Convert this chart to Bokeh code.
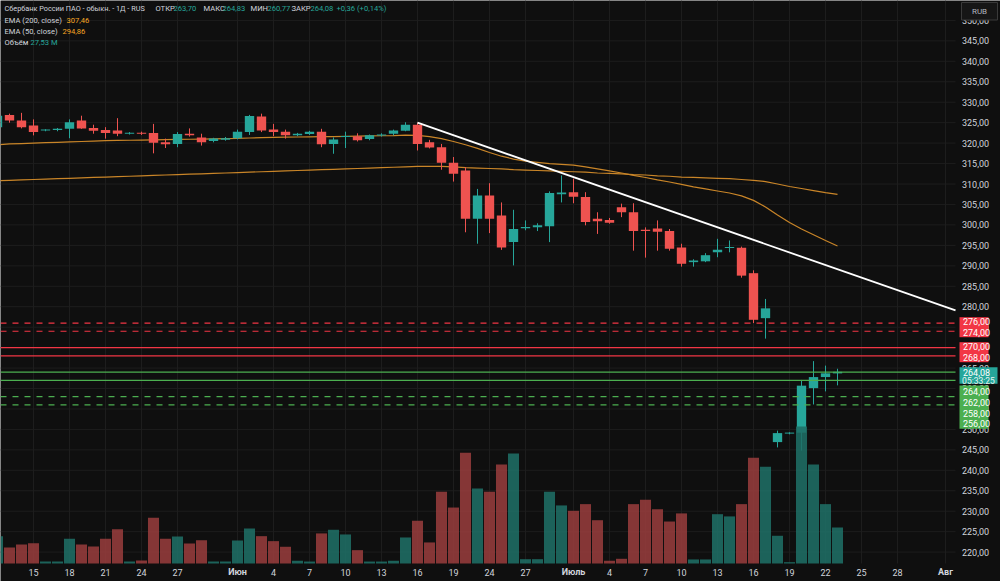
import pandas as pd
from bokeh.plotting import figure
from bokeh.models import Range1d
from bokeh.core.properties import value
from bokeh.embed import file_html
from bokeh.resources import INLINE

# ---- daily sessions (Jun 20-21 had no session) ----
dates = [d.strftime("%Y-%m-%d") for d in
         list(pd.date_range("2026-05-12", "2026-06-19")) +
         list(pd.date_range("2026-06-22", "2026-07-23"))]
future_dates = [d.strftime("%Y-%m-%d") for d in pd.date_range("2026-07-24", "2026-08-01")]
all_dates = dates + future_dates

opens = [323.9, 326.9, 325.5, 324.3, 323.1, 323.2, 323.5, 325.5, 323.7, 323.2,
         323.1, 322.3, 322.5, 322.5, 320.2, 319.8, 322.3, 321.4, 320.5, 320.8,
         321.2, 322.7, 326.5, 323.3, 322.8, 321.9, 322.2, 322.8, 319.8, 321.5,
         321.7, 321.0, 321.9, 322.3, 323.0, 324.5, 320.2, 319.0, 315.2, 313.3,
         301.5, 307.2, 302.3, 295.8, 299.2, 299.4, 299.7, 307.5, 308.0, 306.8,
         301.5, 301.2, 304.3, 303.1, 298.8, 299.1, 298.5, 294.5, 290.9, 291.1,
         293.3, 294.4, 294.4, 288.2, 277.2, 246.9, 249.0, 249.2, 260.1, 262.8,
         263.70]
highs = [327.0, 327.2, 327.4, 325.8, 323.4, 323.7, 325.8, 326.7, 324.5, 323.9,
         326.1, 322.7, 322.8, 324.7, 321.1, 322.7, 323.6, 322.3, 321.3, 321.5,
         323.3, 326.9, 327.2, 324.7, 323.3, 322.5, 323.0, 323.5, 321.4, 322.8,
         322.4, 322.1, 322.4, 323.3, 325.1, 325.0, 320.8, 319.8, 316.6, 314.1,
         308.8, 310.2, 305.5, 303.7, 301.1, 300.4, 308.2, 312.1, 311.3, 308.0,
         303.1, 301.7, 305.2, 305.3, 299.4, 301.1, 299.0, 295.4, 291.6, 293.1,
         296.6, 296.2, 294.7, 288.9, 281.9, 249.7, 249.3, 262.1, 266.7, 265.6,
         264.83]
lows = [323.5, 325.0, 323.6, 321.9, 322.9, 322.9, 321.2, 323.5, 322.3, 321.1,
        321.7, 322.1, 322.0, 317.5, 318.8, 319.0, 321.6, 319.4, 320.2, 320.6,
        320.9, 322.0, 322.7, 321.7, 321.1, 321.7, 322.0, 319.0, 317.4, 318.8,
        320.4, 320.7, 321.6, 321.9, 322.9, 318.2, 318.7, 313.5, 310.6, 298.2,
        295.4, 298.0, 293.9, 290.1, 298.7, 298.5, 295.8, 305.5, 305.3, 299.9,
        297.8, 300.3, 301.9, 293.7, 292.0, 293.7, 293.7, 289.8, 289.8, 290.9,
        292.1, 293.3, 287.1, 276.0, 272.2, 245.6, 248.8, 244.8, 256.1, 259.3,
        260.77]
closes = [326.7, 325.5, 323.9, 322.7, 323.3, 323.5, 325.1, 323.6, 323.0, 322.5,
          322.3, 322.5, 322.3, 320.1, 319.7, 322.2, 321.9, 320.2, 321.1, 321.2,
          322.8, 326.6, 323.1, 322.7, 321.9, 322.3, 322.8, 319.7, 320.9, 321.7,
          320.7, 321.9, 322.1, 323.1, 324.5, 319.8, 318.9, 315.2, 312.5, 301.5,
          307.2, 301.5, 294.5, 299.0, 299.5, 299.9, 307.8, 307.9, 306.9, 300.7,
          300.9, 300.5, 303.1, 298.5, 298.5, 298.3, 294.2, 290.5, 291.3, 292.6,
          293.9, 294.6, 287.6, 276.8, 279.6, 249.1, 249.2, 260.7, 262.8, 263.72,
          264.08]
volumes_m = [20.9, 12.2, 14.5, 15.5, 1.5, 1.5, 18.9, 14.5, 13.0, 18.9,
             26.2, 1.5, 2.3, 35.0, 18.9, 20.7, 15.3, 17.8, 1.5, 1.5,
             17.6, 26.8, 20.9, 17.1, 12.8, 2.1, 1.5, 23.0, 25.8, 22.2,
             10.2, 1.5, 1.5, 2.1, 19.9, 32.7, 16.1, 54.8, 42.8, 84.7,
             57.4, 54.8, 75.7, 84.2, 3.3, 3.3, 54.8, 44.4, 40.3, 45.4,
             33.1, 2.1, 3.6, 45.4, 48.7, 41.5, 32.1, 38.3, 3.1, 3.1,
             37.7, 36.0, 45.4, 80.9, 74.0, 21.2, 1.0, 104.8, 75.7, 45.4,
             27.53]
ema200 = [310.8, 310.9, 311.0, 311.1, 311.2, 311.3, 311.4, 311.5, 311.6, 311.7,
          311.8, 311.9, 312.0, 312.1, 312.2, 312.3, 312.4, 312.5, 312.6, 312.7,
          312.8, 312.9, 313.0, 313.1, 313.2, 313.3, 313.4, 313.5, 313.6, 313.7,
          313.8, 313.9, 314.0, 314.1, 314.2, 314.3, 314.35, 314.3, 314.2, 314.0,
          313.9, 313.8, 313.7, 313.5, 313.4, 313.3, 313.2, 313.1, 313.0, 312.9,
          312.7, 312.6, 312.5, 312.3, 312.2, 312.0, 311.9, 311.7, 311.6, 311.5,
          311.4, 311.3, 311.1, 310.9, 310.6, 310.0, 309.4, 308.9, 308.4, 307.9,
          307.46]
ema50 = [319.6, 319.8, 319.9, 320.0, 320.1, 320.2, 320.3, 320.4, 320.5, 320.6,
         320.65, 320.7, 320.75, 320.8, 320.85, 320.9, 320.95, 321.0, 321.05, 321.1,
         321.15, 321.25, 321.35, 321.4, 321.45, 321.5, 321.55, 321.6, 321.6, 321.65,
         321.7, 321.75, 321.8, 321.85, 321.95, 321.9, 321.6, 321.1, 320.4, 319.6,
         318.7, 317.7, 316.8, 316.1, 315.6, 315.3, 315.0, 314.8, 314.6, 314.2,
         313.7, 313.2, 312.7, 312.1, 311.6, 311.0, 310.5, 309.9, 309.3, 308.8,
         308.3, 307.8, 307.1, 306.0, 304.4, 302.4, 300.6, 299.0, 297.6, 296.2,
         294.86]

# horizontal levels
levels_red_dashed = [276.0, 274.0]
levels_red_solid = [270.0, 268.0]
levels_green_solid = [264.0, 262.0]
levels_green_dashed = [258.0, 256.0]

# trend line drawn from the Jun 16 high down to the right edge
trend_start_date = "2026-06-16"
trend_end_price = 279.1

price_ticks = list(range(220, 355, 5))
tick_dates = ["2026-05-15", "2026-05-18", "2026-05-21", "2026-05-24", "2026-05-27",
              "2026-06-01", "2026-06-04", "2026-06-07", "2026-06-10", "2026-06-13", "2026-06-16",
              "2026-06-19", "2026-06-24", "2026-06-27", "2026-07-01", "2026-07-04", "2026-07-07",
              "2026-07-10", "2026-07-13", "2026-07-16", "2026-07-19", "2026-07-22", "2026-07-25",
              "2026-07-28", "2026-08-01"]
tick_texts = ["15", "18", "21", "24", "27", "Июн", "4", "7", "10", "13", "16", "19", "24",
              "27", "Июль", "4", "7", "10", "13", "16", "19", "22", "25", "28", "Авг"]
month_ticks = {"Июн", "Июль", "Авг"}

# ---- layout helpers: screen pixel -> data coordinate ----
W, H = 1000, 581
BAR_PX = 12.0
X_START = 0.25
PRICE_TOP = 354.87
PX_PER_RUB = 4.09
PRICE_BOTTOM = PRICE_TOP - H / PX_PER_RUB
VOL_PER_PX = 0.7647
VOL_ZERO_PX = 563


def kx(px):
    return X_START + px / BAR_PX


def py(y):
    return PRICE_TOP - y / PX_PER_RUB


BG = "#0f0f0f"
GRID = "#1d1d1d"
TXT = "#d1d4dc"
UP = "#26a69a"
DOWN = "#ef5350"
RED = "#f23645"
GREEN = "#4caf50"
EMA_COL = "#c98528"
FONT = value("Roboto")

p = figure(width=W, height=H, output_backend="svg", toolbar_location=None,
           x_range=Range1d(X_START, X_START + W / BAR_PX),
           y_range=Range1d(PRICE_BOTTOM, PRICE_TOP),
           min_border=0, background_fill_color=BG, border_fill_color=BG,
           outline_line_color=None)
p.axis.visible = False
p.grid.visible = False
p.extra_y_ranges = {"vol": Range1d(-(H - VOL_ZERO_PX) * VOL_PER_PX, VOL_ZERO_PX * VOL_PER_PX)}

chart_right = kx(955)
chart_floor = py(563)
idx = list(range(len(dates)))
tick_idx = [all_dates.index(d) for d in tick_dates]

# grid
p.segment(x0=[kx(0)] * len(price_ticks), x1=[chart_right] * len(price_ticks),
          y0=price_ticks, y1=price_ticks, line_color=GRID, line_width=1)
p.segment(x0=tick_idx, x1=tick_idx, y0=[chart_floor] * len(tick_idx),
          y1=[PRICE_TOP] * len(tick_idx), line_color=GRID, line_width=1)

# EMA lines
p.line(idx, ema200, line_color=EMA_COL, line_width=1.2)
p.line(idx, ema50, line_color=EMA_COL, line_width=1.2)

# candles
cols = [UP if c >= o else DOWN for o, c in zip(opens, closes)]
min_body = 1.0 / PX_PER_RUB
tops, bots = [], []
for o, c in zip(opens, closes):
    t, b = max(o, c), min(o, c)
    if t - b < min_body:
        mid = (t + b) / 2
        t, b = mid + min_body / 2, mid - min_body / 2
    tops.append(t)
    bots.append(b)
p.segment(x0=idx, x1=idx, y0=lows, y1=highs, line_color=cols, line_width=1)
p.vbar(x=idx, width=0.78, top=tops, bottom=bots, fill_color=cols, line_color=None)

# volume
vcols = ["#1f6e65" if c >= o else "#963c3c" for o, c in zip(opens, closes)]
p.vbar(x=idx, width=0.92, top=volumes_m, bottom=0, y_range_name="vol",
       fill_color=vcols, fill_alpha=0.88, line_color=None)

# horizontal levels
def hlines(vals, color, dash):
    p.segment(x0=[kx(0)] * len(vals), x1=[chart_right] * len(vals), y0=vals, y1=vals,
              line_color=color, line_width=1.2, line_dash=dash)

hlines(levels_red_dashed, RED, "6 6")
hlines(levels_red_solid, RED, "solid")
hlines(levels_green_solid, GREEN, "solid")
hlines(levels_green_dashed, GREEN, "6 6")

# trend line
ts = dates.index(trend_start_date)
p.line([ts, chart_right], [highs[ts], trend_end_price], line_color="#ffffff", line_width=1.8)

# price scale labels
p.text(x=[kx(975)] * len(price_ticks), y=price_ticks, text=[f"{v},00" for v in price_ticks],
       text_font=FONT, text_font_size="9px", text_color=TXT,
       text_align="center", text_baseline="middle")

# price tags on the scale
def tag(y_top, y_bot, color, right_px=988):
    p.quad(left=[kx(959)], right=[kx(right_px)], top=[py(y_top)], bottom=[py(y_bot)],
           fill_color=color, line_color=None)

tag(316.7, 336.7, RED)
tag(341.7, 361.7, RED)
tag(366.7, 383.3, UP, 997)
tag(385.0, 428.3, GREEN)

tag_text = [("276,00", 321.2), ("274,00", 331.7), ("270,00", 345.5), ("268,00", 356.5),
            ("264,00", 390.7), ("262,00", 401.7), ("258,00", 412.7), ("256,00", 423.3)]
p.text(x=[kx(976)] * len(tag_text), y=[py(t[1]) for t in tag_text], text=[t[0] for t in tag_text],
       text_font=FONT, text_font_size="9px", text_color="#ffffff",
       text_align="center", text_baseline="middle")
p.text(x=[kx(976)], y=[py(371.8)], text=["264,08"], text_font=FONT, text_font_size="9px",
       text_color="#ffffff", text_align="center", text_baseline="middle")
p.text(x=[kx(978)], y=[py(380.3)], text=["05:33:25"], text_font=FONT, text_font_size="8.5px",
       text_color="#e6f5f3", text_align="center", text_baseline="middle")

# currency box (sits over the top scale label)
p.quad(left=[kx(961)], right=[kx(997)], top=[py(2)], bottom=[py(19.5)],
       fill_color="#161616", line_color="#3a3a3a", line_width=1)
p.text(x=[kx(979)], y=[py(10.5)], text=["RUB"], text_font=FONT, text_font_size="8px",
       text_color="#b2b5be", text_align="center", text_baseline="middle")

# time scale labels
for i, t in zip(tick_idx, tick_texts):
    p.text(x=[i], y=[py(571.5)], text=[t], text_font=FONT, text_font_size="9px",
           text_color=TXT, text_align="center", text_baseline="middle",
           text_font_style="bold" if t in month_ticks else "normal")

# legend header
title = "Сбербанк России ПАО - обыкн. - 1Д - RUS"
p.text(x=[kx(4)], y=[py(8)], text=[title], text_color=TXT, text_font=FONT,
       text_font_size="7.3px", text_align="left", text_baseline="middle")
hdr = [
    ("ОТКР", 155, 8, TXT), ("263,70", 173, 8, UP),
    ("МАКС", 203, 8, TXT), ("264,83", 222, 8, UP),
    ("МИН", 250, 8, TXT), ("260,77", 267, 8, UP),
    ("ЗАКР", 291, 8, TXT), ("264,08", 310, 8, UP),
    ("+0,36 (+0,14%)", 336, 8, UP),
    ("EMA (200, close)", 4, 20, TXT), ("307,46", 66, 20, "#f5a623"),
    ("EMA (50, close)", 4, 31, TXT), ("294,86", 62, 31, "#f5a623"),
    ("Объём", 4, 42, TXT), ("27,53 M", 30, 42, UP),
]
p.text(x=[kx(h[1]) for h in hdr], y=[py(h[2]) for h in hdr], text=[h[0] for h in hdr],
       text_color=[h[3] for h in hdr], text_font=FONT, text_font_size="7.6px",
       text_align="left", text_baseline="middle")

open("out.html", "w").write(file_html(p, INLINE))
